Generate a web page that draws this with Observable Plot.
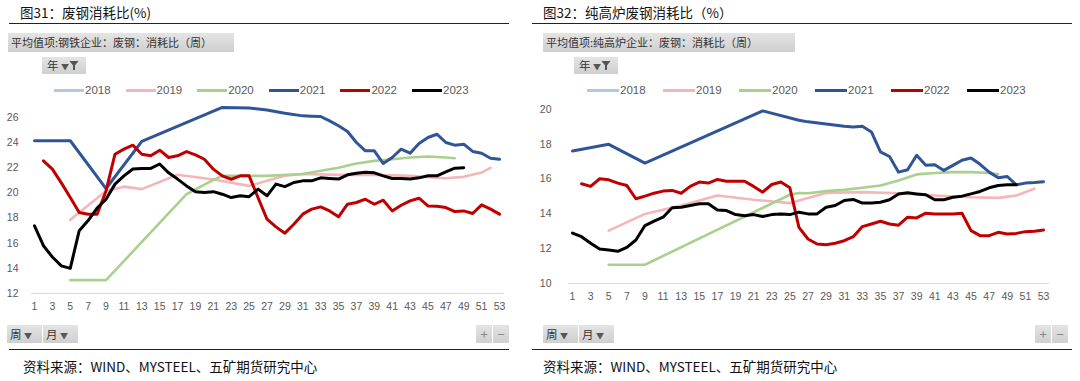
<!DOCTYPE html>
<html>
<head>
<meta charset="utf-8">
<script src="https://cdn.jsdelivr.net/npm/d3@7"></script>
<script src="https://cdn.jsdelivr.net/npm/@observablehq/plot@0.6"></script>
<style>
  html, body { margin: 0; padding: 0; background: #fff; }
  #page { position: relative; width: 1080px; height: 381px; overflow: hidden; font-family: "Noto Sans CJK SC", "Noto Sans", sans-serif; }
  .abs { position: absolute; }
  .title { font-size: 13.5px; color: #111; line-height: 16px; white-space: nowrap; }
  .hline { height: 1.3px; background: #222; }
  .btn { background: linear-gradient(#e4e4e4, #cfcfcf); color: #333; font-size: 11px; line-height: 18px; white-space: nowrap; box-sizing: border-box; }
  .src { font-size: 13.5px; color: #111; white-space: nowrap; line-height: 16px; }
  .leg { font-family: "Liberation Sans", Arial, sans-serif; font-size: 11.5px; color: #595959; line-height: 14px; }
  .legline { height: 3px; }
  .tri { font-size: 8px; color: #555; }
</style>
</head>
<body>
<div id="page"></div>
<script>
// ---------- data (weekly values, week 1..53; null = no point at that week) ----------
const weeks = d3.range(1, 54);
const years = ["2018", "2019", "2020", "2021", "2022", "2023"];
const yearColors = ["#b4c7e7", "#f4b6b9", "#a9d18e", "#2f5597", "#c00000", "#000000"];
const xTicks = d3.range(1, 54, 2);

// Panel 1: 钢铁企业 废钢消耗比
const p1y2018 = [];
const p1y2019 = [null,null,null,null,17.86,null,null,null,20.16,null,20.5,null,20.3,null,null,null,21.44,null,null,null,21.07,null,null,null,20.56,null,20.96,null,21.36,null,21.5,null,null,null,21.44,null,null,null,21.44,null,null,null,21.36,null,null,null,21.17,null,21.28,null,21.62,22.0,null];
const p1y2020 = [null,null,null,null,13.06,null,null,null,13.06,null,null,null,null,null,null,null,null,19.9,null,null,21.04,21.36,null,null,null,21.36,21.36,null,null,null,21.5,null,21.76,null,22.0,null,22.34,null,22.55,null,22.68,null,22.82,null,22.9,null,22.82,22.76,null,null,null,null,null];
const p1y2021 = [24.15,null,null,null,24.15,null,null,null,20.35,null,null,null,24.1,null,null,null,null,null,null,null,null,26.8,null,null,26.75,null,26.6,null,26.34,null,26.13,26.1,26.08,25.73,25.34,24.89,24.01,23.35,23.35,22.34,22.82,23.48,23.16,23.93,24.41,24.67,24.01,23.8,23.88,23.3,23.16,22.76,22.68];
const p1y2022 = [null,22.55,21.89,20.8,19.63,18.44,18.31,18.31,20.16,23.08,23.48,23.8,23.08,22.95,23.4,22.82,22.95,23.29,23.03,22.68,21.89,21.36,21.09,21.36,21.36,19.63,17.91,17.3,16.8,17.51,18.31,18.71,18.89,18.57,18.1,19.1,19.24,19.5,19.1,19.42,18.57,19.02,19.37,19.58,18.97,18.94,18.84,18.52,18.57,18.36,19.05,18.71,18.31];
const p1y2023 = [17.38,15.8,14.9,14.2,14.0,17.0,17.8,18.8,19.5,20.7,21.36,21.9,21.95,21.95,22.3,21.6,21.1,20.56,20.1,20.03,20.1,19.9,19.63,19.77,19.7,20.3,19.77,20.7,20.5,20.83,20.96,20.96,21.2,21.15,21.1,21.44,21.57,21.65,21.6,21.36,21.15,21.15,21.1,21.2,21.36,21.36,21.68,21.97,22.0,null,null,null,null];
const p1yTicks = [12, 14, 16, 18, 20, 22, 24, 26];

// Panel 2: 纯高炉企业 废钢消耗比
const p2y2018 = [];
const p2y2019 = [null,null,null,null,13.04,null,null,null,14.0,null,null,null,14.48,null,null,null,15.06,null,null,null,14.81,null,null,null,14.62,null,14.92,null,15.2,null,null,null,15.25,null,null,null,15.19,null,null,null,15.06,null,null,null,14.96,null,null,14.92,null,15.06,null,15.44,null];
const p2y2020 = [null,null,null,null,11.08,null,null,null,11.08,null,null,null,null,null,null,null,null,null,null,null,null,null,null,null,15.1,15.2,15.19,null,15.31,null,15.38,null,15.5,null,15.63,null,15.92,null,16.27,null,16.35,null,16.4,null,16.4,null,16.35,16.27,null,null,null,null,null];
const p2y2021 = [17.62,null,null,null,18.0,null,null,null,16.92,null,null,null,null,null,null,null,null,null,null,null,null,19.92,null,null,null,19.38,19.29,null,null,null,19.04,19.0,19.04,18.71,17.56,17.3,16.4,16.54,17.37,16.79,16.83,16.5,16.79,17.08,17.21,16.85,16.4,16.08,16.15,15.67,15.77,15.8,15.85];
const p2y2022 = [null,15.73,15.58,16.02,15.96,15.77,15.63,14.87,15.02,15.19,15.31,15.35,15.19,15.58,15.83,15.77,15.98,15.88,15.88,15.88,15.58,15.25,15.69,15.83,15.5,13.23,12.56,12.27,12.23,12.31,12.46,12.69,13.27,13.42,13.58,13.42,13.35,13.81,13.77,14.04,14.0,14.0,14.0,14.04,13.04,12.75,12.75,12.94,12.85,12.88,12.98,13.0,13.08];
const p2y2023 = [12.9,12.69,12.31,11.98,11.92,11.85,12.08,12.5,13.33,13.58,13.81,14.35,14.38,14.48,14.58,14.58,14.23,14.19,13.96,13.9,13.96,13.85,13.96,14.0,13.96,14.1,14.0,14.0,14.38,14.48,14.77,14.83,14.62,14.62,14.67,14.81,15.15,15.21,15.15,15.1,14.81,14.81,14.96,15.02,15.15,15.29,15.5,15.63,15.67,15.67,null,null,null];
const p2yTicks = [10, 12, 14, 16, 18, 20];

const panel1 = {
  title: "图31：废钢消耗比(%)",
  field: "平均值项:钢铁企业：废钢：消耗比（周）",
  series: [p1y2018, p1y2019, p1y2020, p1y2021, p1y2022, p1y2023],
  yTicks: p1yTicks
};
const panel2 = {
  title: "图32：纯高炉废钢消耗比（%）",
  field: "平均值项:纯高炉企业：废钢：消耗比（周）",
  series: [p2y2018, p2y2019, p2y2020, p2y2021, p2y2022, p2y2023],
  yTicks: p2yTicks
};
const source = "资料来源：WIND、MYSTEEL、五矿期货研究中心";

// ---------- layout helpers ----------
const page = document.getElementById("page");
function el(cls, css, html) {
  const d = document.createElement("div");
  d.className = "abs " + cls;
  Object.assign(d.style, css);
  if (html != null) d.innerHTML = html;
  page.appendChild(d);
  return d;
}
const funnel = '<svg width="10" height="11" style="vertical-align:-1px"><path d="M0.5,1 L9.5,1 L6,5.5 L6,10 L4,10 L4,5.5 Z" fill="#555"/></svg>';

function drawPanel(p, L) {
  el("title", {left: L.titleX + "px", top: "4px"}, p.title);
  el("hline", {left: L.lineX1 + "px", top: "23px", width: (L.lineX2 - L.lineX1) + "px"});
  el("btn", {left: L.fieldX + "px", top: "33px", width: L.fieldW + "px", height: "19px", paddingLeft: "3px"}, p.field);
  el("btn", {left: L.yearX + "px", top: "57px", width: "44px", height: "17px", paddingLeft: "5px", lineHeight: "17px", fontSize: "11.5px"},
     '年 <span class="tri">▼</span>' + funnel);
  // legend
  years.forEach((y, i) => {
    const x0 = L.legX + i * L.legStep;
    el("legline", {left: x0 + "px", top: (L.legY - 1.5) + "px", width: L.legLine + "px", background: yearColors[i]});
    el("leg", {left: (x0 + L.legLine + 1) + "px", top: (L.legY - 7) + "px"}, y);
  });
  // chart
  const data = [];
  p.series.forEach((vals, si) => {
    vals.forEach((v, i) => { if (v != null) data.push({year: years[si], week: weeks[i], value: v}); });
  });
  const chart = Plot.plot({
    width: L.w, height: L.h,
    marginLeft: L.ml, marginRight: L.mr, marginTop: L.mt, marginBottom: L.mb,
    x: {domain: [1, 53], insetLeft: L.il, insetRight: L.ir, ticks: xTicks, tickSize: 0, tickPadding: 9, label: null, tickFormat: d => String(d)},
    y: {domain: [p.yTicks[0], p.yTicks[p.yTicks.length - 1]], ticks: p.yTicks, tickSize: 0, tickPadding: L.yPad, label: null},
    style: {fontFamily: '"Liberation Sans", Arial, sans-serif', fontSize: "10.5px", color: "#595959", background: "transparent", overflow: "visible"},
    marks: [
      Plot.ruleY([p.yTicks[0]], {stroke: "#d9d9d9", strokeWidth: 1.2}),
      ...years.map((y, i) => Plot.line(data.filter(d => d.year === y), {
        x: "week", y: "value", stroke: yearColors[i],
        strokeWidth: (y === "2019" || y === "2020" || y === "2018") ? 2.6 : 3,
        strokeLinejoin: "round", strokeLinecap: "round"
      }))
    ]
  });
  chart.style.position = "absolute";
  chart.style.left = L.x + "px";
  chart.style.top = L.y + "px";
  page.appendChild(chart);
  // bottom controls
  el("btn", {left: L.botX + "px", top: "325px", width: "35px", height: "18px", paddingLeft: "3px", fontSize: "11.5px"}, '周 <span class="tri">▼</span>');
  el("btn", {left: (L.botX + 36) + "px", top: "325px", width: "35px", height: "18px", paddingLeft: "3px", fontSize: "11.5px"}, '月 <span class="tri">▼</span>');
  el("btn", {left: L.pmX + "px", top: "325px", width: "16px", height: "18px", textAlign: "center", color: "#888", fontSize: "13px"}, "+");
  el("btn", {left: (L.pmX + 17) + "px", top: "325px", width: "16px", height: "18px", textAlign: "center", color: "#888", fontSize: "13px"}, "−");
  el("hline", {left: L.lineX1 + "px", top: "349px", width: (L.lineX2 - L.lineX1) + "px"});
  el("src", {left: L.srcX + "px", top: "358px"}, source);
}

drawPanel(panel1, {
  titleX: 20, lineX1: 9, lineX2: 509, fieldX: 8, fieldW: 226, yearX: 42,
  legX: 54, legStep: 71.6, legLine: 30, legY: 90,
  x: 0, y: 90, w: 520, h: 230, ml: 31, mr: 16, mt: 27, mb: 27, il: 3, ir: 5, yPad: 13,
  botX: 7, pmX: 476, srcX: 23
});
drawPanel(panel2, {
  titleX: 543, lineX1: 532, lineX2: 1072, fieldX: 543, fieldW: 252, yearX: 574,
  legX: 587, legStep: 76, legLine: 32, legY: 90,
  x: 530, y: 90, w: 540, h: 230, ml: 38, mr: 21, mt: 19, mb: 37, il: 4, ir: 6, yPad: 17,
  botX: 543, pmX: 1035, srcX: 543
});
</script>
</body>
</html>
